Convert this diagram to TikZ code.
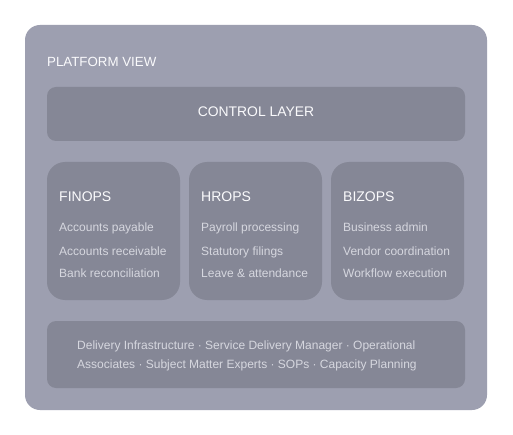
\documentclass[tikz,border=0pt]{standalone}
\usepackage{fontspec}
\setmainfont{Liberation Sans}
\usepackage{xcolor}
\usepackage{tikz}
\usetikzlibrary{positioning}
\definecolor{MarcoGris}{RGB}{157,159,176}
\definecolor{CajaGris}{RGB}{133,135,150}
\definecolor{TextoClaro}{RGB}{250,250,252}
\definecolor{TextoSuave}{RGB}{214,215,223}

\tikzset{
  caja/.style={fill=CajaGris,draw=none,rounded corners=#1,inner sep=0pt},
  titulo/.style={text=TextoClaro,font=\fontsize{14}{16}\selectfont,anchor=base west,inner sep=0pt},
  item/.style={text=TextoSuave,font=\fontsize{12}{14}\selectfont,anchor=base west,inner sep=0pt}
}

\begin{document}
\begin{tikzpicture}[x=1pt,y=-1pt]
  \useasboundingbox (0,0) rectangle (513,435);
  \fill[white] (0,0) rectangle (513,435);

  % marco exterior
  \fill[MarcoGris,rounded corners=15pt] (25,25) rectangle (487,410);
  \node[text=TextoClaro,font=\fontsize{13.3}{15}\selectfont,anchor=base west,inner sep=0pt] (plataforma) at (47,67) {PLATFORM VIEW};

  % capa de control
  \node[caja=9pt,minimum width=418pt,minimum height=54pt] (control) at (256,114) {};
  \node[text=TextoClaro,font=\fontsize{13.9}{16}\selectfont,anchor=base,inner sep=0pt] (controlTxt) at (256,117) {CONTROL LAYER};

  % tarjetas
  \node[caja=18pt,minimum width=133pt,minimum height=138pt] (fin) at (113.5,231) {};
  \node[caja=18pt,minimum width=133pt,minimum height=138pt] (hr) at (255.5,231) {};
  \node[caja=18pt,minimum width=133pt,minimum height=138pt] (biz) at (397.5,231) {};

  \node[titulo] (finT) at (59,202) {FINOPS};
  \node[item] (fin1) at (59,232) {Accounts payable};
  \node[item] (fin2) at (59,255) {Accounts receivable};
  \node[item] (fin3) at (59,277) {Bank reconciliation};

  \node[titulo] (hrT) at (201,202) {HROPS};
  \node[item] (hr1) at (201,232) {Payroll processing};
  \node[item] (hr2) at (201,255) {Statutory filings};
  \node[item] (hr3) at (201,277) {Leave \& attendance};

  \node[titulo] (bizT) at (343,202) {BIZOPS};
  \node[item] (biz1) at (343,232) {Business admin};
  \node[item] (biz2) at (343,255) {Vendor coordination};
  \node[item] (biz3) at (343,277) {Workflow execution};

  % base de entrega
  \node[caja=9pt,minimum width=418pt,minimum height=67pt] (base) at (256,354.5) {};
  \node[item] (base1) at (77,349) {Delivery Infrastructure · Service Delivery Manager · Operational};
  \node[item] (base2) at (77,368) {Associates · Subject Matter Experts · SOPs · Capacity Planning};
\end{tikzpicture}
\end{document}
